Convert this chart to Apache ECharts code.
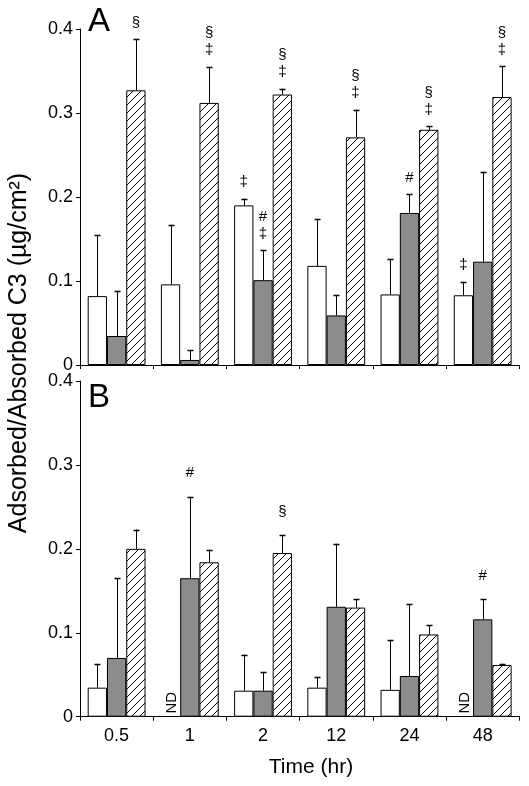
<!DOCTYPE html>
<html><head><meta charset="utf-8">
<script src="https://cdn.jsdelivr.net/npm/echarts@6/dist/echarts.min.js"></script>
<style>html,body{margin:0;padding:0;background:#fff}#c{width:529px;height:786px}</style>
</head><body><div id="c"></div>
<script>
// ---- data ----
const categories = ['0.5', '1', '2', '12', '24', '48'];
const yTicks = [0, 0.1, 0.2, 0.3, 0.4];

// Panel A
const A_white      = [0.082, 0.096, 0.190, 0.118, 0.084, 0.083];
const A_whiteErr   = [0.073, 0.071, 0.008, 0.056, 0.042, 0.016];
const A_gray       = [0.0345, 0.006, 0.101, 0.059, 0.181, 0.123];
const A_grayErr    = [0.054, 0.012, 0.036, 0.024, 0.022, 0.107];
const A_hatch      = [0.327, 0.312, 0.322, 0.271, 0.280, 0.319];
const A_hatchErr   = [0.061, 0.043, 0.007, 0.033, 0.004, 0.037];
const A_whiteMark  = ['', '', '‡', '', '', '‡'];
const A_grayMark   = ['', '', '#\n‡', '', '#', ''];
const A_hatchMark  = ['§', '§\n‡', '§\n‡', '§\n‡', '§\n‡', '§\n‡'];

// Panel B (null = ND)
const B_white      = [0.0346, null, 0.031, 0.0346, 0.032, null];
const B_whiteErr   = [0.028, null, 0.043, 0.013, 0.059, null];
const B_gray       = [0.070, 0.165, 0.031, 0.131, 0.0485, 0.116];
const B_grayErr    = [0.095, 0.097, 0.022, 0.075, 0.086, 0.024];
const B_hatch      = [0.200, 0.184, 0.195, 0.130, 0.098, 0.0616];
const B_hatchErr   = [0.023, 0.015, 0.021, 0.010, 0.011, 0.0015];
const B_whiteMark  = ['', '', '', '', '', ''];
const B_grayMark   = ['', '#', '', '', '', '#'];
const B_hatchMark  = ['', '', '§', '', '', ''];

// ---- styling ----
const FONT = 'Liberation Sans, Arial, sans-serif';
const GAP = 0.21;
const grayColor = '#8c8c8c';

const pc = document.createElement('canvas');
pc.width = 8; pc.height = 8;
const g = pc.getContext('2d');
g.fillStyle = '#fff'; g.fillRect(0, 0, 8, 8);
g.strokeStyle = '#000'; g.lineWidth = 1;
g.beginPath();
g.moveTo(-1, 9); g.lineTo(9, -1);
g.moveTo(-1, 1); g.lineTo(1, -1);
g.moveTo(7, 9); g.lineTo(9, 7);
g.stroke();
const hatchFill = { image: pc, repeat: 'repeat' };

const chart = echarts.init(document.getElementById('c'), null, { renderer: 'canvas' });

function rowsFor(vals, errs, marks) {
  const rows = [];
  vals.forEach((set, si) => {
    set.forEach((v, ci) => rows.push([ci, si, v, errs[si][ci], marks[si][ci]]));
  });
  return rows;
}

function customSeries(gi, rows, markGap) {
  return {
    type: 'custom', xAxisIndex: gi, yAxisIndex: gi, z: 5,
    data: rows.map(r => [r[0], r[1], r[2] == null ? 0 : r[2], r[3] == null ? 0 : r[3]]),
    renderItem: function (params, api) {
      const r = rows[params.dataIndex];
      const ci = r[0], si = r[1], v = r[2], e = r[3], mk = r[4];
      const band = api.size([1, 0])[0];
      const bw = band * (1 - GAP) / 3;
      const base = api.coord([ci, 0]);
      const cx = base[0] + (si - 1) * bw;
      const children = [];
      if (v == null) {
        children.push({
          type: 'text', x: cx + 1, y: base[1] - 14, rotation: Math.PI / 2,
          style: { text: 'ND', font: '15px ' + FONT, fill: '#000', align: 'center', verticalAlign: 'middle' }
        });
        return { type: 'group', children };
      }
      const yv = api.coord([ci, v])[1];
      const ye = api.coord([ci, v + e])[1];
      const x = Math.round(cx) + 0.5;
      children.push({ type: 'line', shape: { x1: x, y1: yv, x2: x, y2: ye }, style: { stroke: '#000', lineWidth: 1 } });
      children.push({ type: 'line', shape: { x1: x - 3, y1: Math.round(ye) + 0.5, x2: x + 3, y2: Math.round(ye) + 0.5 }, style: { stroke: '#000', lineWidth: 1.5 } });
      if (mk) {
        children.push({
          type: 'text', x: cx, y: ye - markGap,
          style: { text: mk, font: '15px ' + FONT, fill: '#000', align: 'center', verticalAlign: 'bottom', lineHeight: 17 }
        });
      }
      return { type: 'group', children };
    }
  };
}

function barSeries(gi, data, color) {
  return {
    type: 'bar', xAxisIndex: gi, yAxisIndex: gi, data: data,
    barGap: '0%', barCategoryGap: (GAP * 100) + '%',
    itemStyle: { color: color, borderColor: '#000', borderWidth: 1 },
    emphasis: { disabled: true }, animation: false
  };
}

const axisLine = { show: true, lineStyle: { color: '#000', width: 1 } };

function xAxis(gi, showLabels) {
  return {
    type: 'category', gridIndex: gi, data: categories,
    axisLine: axisLine,
    axisTick: { show: true, length: 4, lineStyle: { color: '#000' } },
    axisLabel: { show: showLabels, color: '#000', fontSize: 18, fontFamily: FONT, margin: 10 },
    splitLine: { show: false }
  };
}
function yAxis(gi) {
  return {
    type: 'value', gridIndex: gi, min: yTicks[0], max: yTicks[yTicks.length - 1], interval: 0.1,
    axisLine: axisLine,
    axisTick: { show: true, length: 4, lineStyle: { color: '#000' } },
    axisLabel: { color: '#000', fontSize: 18, fontFamily: FONT, margin: 7,
      formatter: v => v === 0 ? '0' : v.toFixed(1) },
    splitLine: { show: false }
  };
}

const rowsA = rowsFor([A_white, A_gray, A_hatch], [A_whiteErr, A_grayErr, A_hatchErr], [A_whiteMark, A_grayMark, A_hatchMark]);
const rowsB = rowsFor([B_white, B_gray, B_hatch], [B_whiteErr, B_grayErr, B_hatchErr], [B_whiteMark, B_grayMark, B_hatchMark]);

chart.setOption({
  animation: false,
  backgroundColor: '#fff',
  grid: [
    { left: 80, top: 29, width: 439.3, height: 336 },
    { left: 80, top: 381, width: 439.3, height: 335.7 }
  ],
  xAxis: [xAxis(0, false), xAxis(1, true)],
  yAxis: [yAxis(0), yAxis(1)],
  series: [
    barSeries(0, A_white, '#fff'),
    barSeries(0, A_gray, grayColor),
    barSeries(0, A_hatch, hatchFill),
    barSeries(1, B_white.map(v => v == null ? '-' : v), '#fff'),
    barSeries(1, B_gray, grayColor),
    barSeries(1, B_hatch, hatchFill),
    customSeries(0, rowsA, 8),
    customSeries(1, rowsB, 15)
  ],
  graphic: [
    { type: 'text', left: 88, top: 5, style: { text: 'A', font: '33px ' + FONT, fill: '#000' } },
    { type: 'text', left: 88, top: 381, style: { text: 'B', font: '33px ' + FONT, fill: '#000' } },
    { type: 'text', x: 19, y: 353, rotation: Math.PI / 2,
      style: { text: 'Adsorbed/Absorbed C3 (µg/cm²)', font: '25px ' + FONT, fill: '#000', align: 'center', verticalAlign: 'middle' } },
    { type: 'text', x: 311, y: 767,
      style: { text: 'Time (hr)', font: '21px ' + FONT, fill: '#000', align: 'center', verticalAlign: 'middle' } }
  ]
});
</script></body></html>
